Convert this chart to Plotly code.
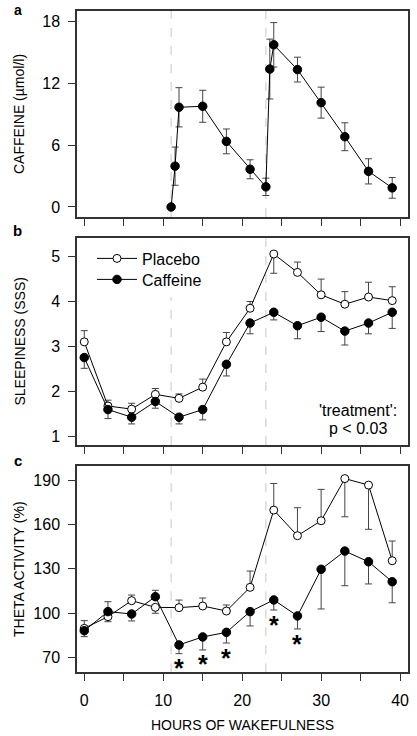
import plotly.graph_objects as go

# ---------------- data ----------------
hours = [0, 3, 6, 9, 12, 15, 18, 21, 24, 27, 30, 33, 36, 39]

caf_x = [11, 11.5, 12, 15, 18, 21, 23, 23.5, 24, 27, 30, 33, 36, 39]
caf_conc = [0, 3.95, 9.65, 9.75, 6.35, 3.65, 1.95, 13.35, 15.7, 13.3, 10.1, 6.8, 3.45, 1.85]
caf_conc_err = [0, 1.85, 1.9, 1.55, 1.2, 0.92, 0.84, 2.9, 2.15, 1.2, 1.5, 1.35, 1.22, 1.0]

sss_placebo = [3.10, 1.67, 1.60, 1.93, 1.84, 2.09, 3.10, 3.85, 5.06, 4.65, 4.15, 3.94, 4.10, 4.02]
sss_placebo_up = [0.25, 0.13, 0.13, 0.13, 0.10, 0.18, 0.21, 0.15, 0, 0.23, 0.35, 0.28, 0.33, 0.31]
sss_placebo_dn = [0, 0, 0, 0, 0, 0, 0, 0, 0.43, 0, 0, 0, 0, 0]
sss_caffeine = [2.75, 1.59, 1.42, 1.77, 1.42, 1.59, 2.60, 3.52, 3.76, 3.46, 3.65, 3.34, 3.52, 3.76]
sss_caffeine_up = [0] * 14
sss_caffeine_dn = [0.24, 0.20, 0.15, 0.15, 0.15, 0.23, 0.26, 0.24, 0.17, 0.29, 0.32, 0.31, 0.24, 0.36]

theta_placebo = [89.8, 97.7, 108.5, 104.0, 103.8, 104.9, 101.5, 117.5, 169.7, 152.4, 162.5, 191.0, 186.6, 135.5]
theta_placebo_up = [5.2, 0, 3.8, 0, 5.1, 5.4, 4.1, 11.0, 18.0, 18.9, 21.2, 0, 0, 13.3]
theta_placebo_dn = [0, 3.4, 0, 4.0, 0, 0, 0, 0, 0, 0, 0, 25.8, 29.9, 0]
theta_caffeine = [88.2, 101.1, 99.5, 111.2, 78.6, 84.0, 87.1, 101.1, 109.0, 98.2, 129.7, 142.0, 134.8, 121.3]
theta_caffeine_up = [0, 6.7, 0, 4.3, 0, 0, 0, 0, 0, 0, 0, 0, 0, 0]
theta_caffeine_dn = [4.0, 0, 4.7, 0, 5.9, 8.8, 7.2, 9.7, 6.8, 8.8, 26.8, 23.4, 15.0, 14.2]

star_x = [12, 15, 18, 24, 27]
star_y = [67.3, 69.6, 74.0, 96.1, 83.5]

dose_times = [11, 23]

x_ticks = [0, 5, 10, 15, 20, 25, 30, 35, 40]
x_ticklabels = ["0", "", "10", "", "20", "", "30", "", "40"]
ya_ticks = [0, 6, 12, 18]
yb_ticks = [1, 2, 3, 4, 5]
yc_ticks = [70, 100, 130, 160, 190]

# ---------------- layout geometry ----------------
W, H = 417, 736
FONT = "Liberation Sans, Arial, sans-serif"
xdom = [77 / W, 408 / W]
dom_a = [1 - 217 / H, 1 - 10.7 / H]
dom_b = [1 - 445 / H, 1 - 238.3 / H]
dom_c = [1 - 672.3 / H, 1 - 466 / H]
xr = [-0.92, 41.0]

ERR_COL = "#444444"
fig = go.Figure()

def err(up, dn):
    return dict(type="data", symmetric=False, array=up, arrayminus=dn,
                color=ERR_COL, thickness=1, width=3.5)

filled = dict(symbol="circle", size=8.5, color="black", line=dict(color="black", width=1))
opened = dict(symbol="circle", size=8, color="white", line=dict(color="black", width=1))
LINE = dict(color="black", width=1)

# panel a
fig.add_trace(go.Scatter(x=caf_x, y=caf_conc, mode="lines+markers", line=LINE, marker=filled,
                         error_y=dict(type="data", array=caf_conc_err, color=ERR_COL, thickness=1, width=3.5),
                         showlegend=False, xaxis="x", yaxis="y"))
# panel b
fig.add_trace(go.Scatter(x=hours, y=sss_placebo, mode="lines+markers", line=LINE, marker=opened,
                         error_y=err(sss_placebo_up, sss_placebo_dn), name="Placebo",
                         legend="legend", xaxis="x2", yaxis="y2"))
fig.add_trace(go.Scatter(x=hours, y=sss_caffeine, mode="lines+markers", line=LINE, marker=filled,
                         error_y=err(sss_caffeine_up, sss_caffeine_dn), name="Caffeine",
                         legend="legend2", xaxis="x2", yaxis="y2"))
# panel c
fig.add_trace(go.Scatter(x=hours, y=theta_placebo, mode="lines+markers", line=LINE, marker=opened,
                         error_y=err(theta_placebo_up, theta_placebo_dn), showlegend=False,
                         xaxis="x3", yaxis="y3"))
fig.add_trace(go.Scatter(x=hours, y=theta_caffeine, mode="lines+markers", line=LINE, marker=filled,
                         error_y=err(theta_caffeine_up, theta_caffeine_dn), showlegend=False,
                         xaxis="x3", yaxis="y3"))

AX = dict(showline=True, mirror=True, linecolor="#333333", linewidth=1.5, ticks="outside",
          ticklen=7, tickwidth=1, tickcolor="#333333", showgrid=False, zeroline=False,
          tickfont=dict(family=FONT, size=16, color="black"))

def xax(dom_anchor, show_labels):
    return dict(AX, domain=xdom, range=xr, anchor=dom_anchor, tickmode="array", tickvals=x_ticks,
                ticktext=x_ticklabels if show_labels else [""] * len(x_ticks),
                ticklabelstandoff=6)

def yax(dom, rng, ticks, anchor):
    return dict(AX, domain=dom, range=rng, tickmode="array", tickvals=ticks, anchor=anchor,
                ticklabelstandoff=5)

LEG = dict(xanchor="left", yanchor="middle", bgcolor="rgba(0,0,0,0)",
           font=dict(family=FONT, size=16, color="black"), itemwidth=40,
           borderwidth=0)

fig.update_layout(
    width=W, height=H, margin=dict(l=0, r=0, t=0, b=0),
    paper_bgcolor="white", plot_bgcolor="white",
    font=dict(family=FONT, color="black"),
    xaxis=xax("y", False), yaxis=yax(dom_a, [-0.97, 19.0], ya_ticks, "x"),
    xaxis2=xax("y2", False), yaxis2=yax(dom_b, [0.8, 5.41], yb_ticks, "x2"),
    xaxis3=xax("y3", True), yaxis3=yax(dom_c, [60.1, 199.5], yc_ticks, "x3"),
    legend=dict(LEG, x=92 / W, y=1 - 258.5 / H),
    legend2=dict(LEG, x=92 / W, y=1 - 279.5 / H),
)

# dashed reference lines
DASH = dict(color="#c8c8c8", width=1, dash="dash")
shapes = []
for xv in dose_times:
    shapes.append(dict(type="line", xref="x", yref="y domain", x0=xv, x1=xv, y0=0, y1=1, line=DASH, layer="below"))
    shapes.append(dict(type="line", xref="x3", yref="y3 domain", x0=xv, x1=xv, y0=0, y1=1, line=DASH, layer="below"))
shapes.append(dict(type="line", xref="x2", yref="y2", x0=dose_times[0], x1=dose_times[0], y0=0.8, y1=4.1, line=DASH, layer="below"))
shapes.append(dict(type="line", xref="x2", yref="y2 domain", x0=dose_times[1], x1=dose_times[1], y0=0, y1=1, line=DASH, layer="below"))
fig.update_layout(shapes=shapes)

ann = []
# significance asterisks
for sx, sy in zip(star_x, star_y):
    ann.append(dict(text="<b>*</b>", x=sx, y=sy, xref="x3", yref="y3", showarrow=False,
                    xanchor="center", yanchor="middle", yshift=-6,
                    font=dict(family=FONT, size=25, color="black")))
# panel letters
ann.append(dict(text="<b>a</b>", x=17.5 / W, y=1, xref="paper", yref="paper",
                showarrow=False, xanchor="center", yanchor="top",
                font=dict(family=FONT, size=14, color="black")))
for letter, ypx in [("b", 231), ("c", 460)]:
    ann.append(dict(text="<b>%s</b>" % letter, x=17.5 / W, y=1 - ypx / H, xref="paper", yref="paper",
                    showarrow=False, xanchor="center", yanchor="middle",
                    font=dict(family=FONT, size=15, color="black")))
# y titles
for t, ypx in [("CAFFEINE (\u00b5mol/l)", 114), ("SLEEPINESS (SSS)", 341.5), ("THETA ACTIVITY (%)", 569)]:
    ann.append(dict(text=t, x=19 / W, y=1 - ypx / H, xref="paper", yref="paper", showarrow=False,
                    textangle=-90, xanchor="center", yanchor="middle",
                    font=dict(family=FONT, size=14, color="black")))
# x title
ann.append(dict(text="HOURS OF WAKEFULNESS", x=(84.3 + 400.3) / 2 / W, y=1 - 725 / H, xref="paper",
                yref="paper", showarrow=False, xanchor="center", yanchor="middle",
                font=dict(family=FONT, size=14, color="black")))
# stats text
ann.append(dict(text="'treatment':", x=358 / W, y=1 - 410 / H, xref="paper", yref="paper",
                showarrow=False, xanchor="center", yanchor="middle",
                font=dict(family=FONT, size=16, color="black")))
ann.append(dict(text="p < 0.03", x=358 / W, y=1 - 428.5 / H, xref="paper", yref="paper",
                showarrow=False, xanchor="center", yanchor="middle",
                font=dict(family=FONT, size=16, color="black")))
fig.update_layout(annotations=ann)

fig.write_html("out.html", config={"displayModeBar": False},
               post_script="document.body.style.margin='0';document.body.style.overflow='hidden';")
